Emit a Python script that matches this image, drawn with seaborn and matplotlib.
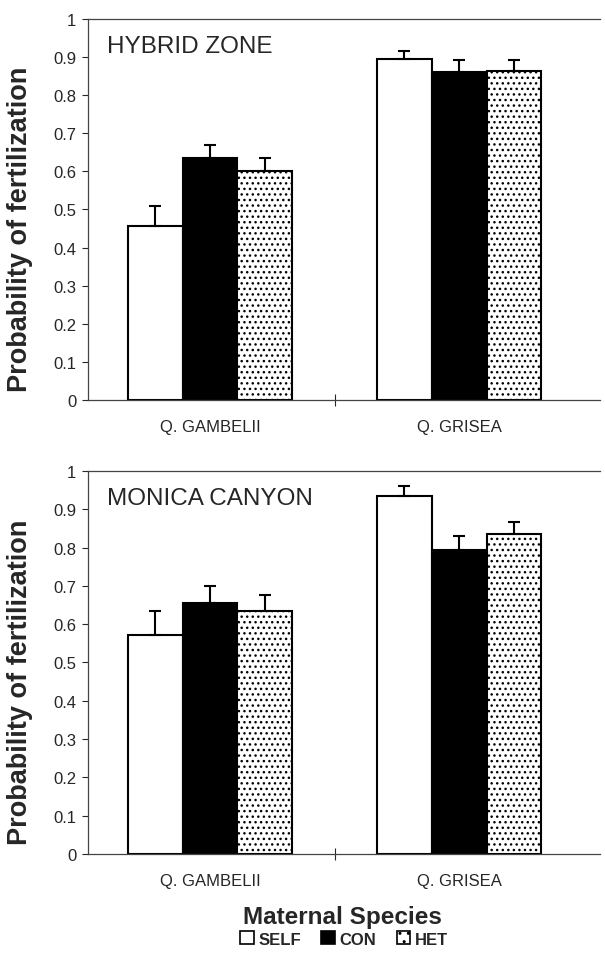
import pandas as pd
import matplotlib.pyplot as plt
import seaborn as sns
from matplotlib.patches import Patch
from matplotlib.ticker import FixedLocator

# Data (mean probability of fertilization + upper SE)
species = ["Q. GAMBELII", "Q. GRISEA"]
pollen = ["SELF", "CON", "HET"]

hybrid_self = [0.457, 0.895]
hybrid_con = [0.634, 0.862]
hybrid_het = [0.602, 0.864]
hybrid_self_se = [0.053, 0.020]
hybrid_con_se = [0.035, 0.030]
hybrid_het_se = [0.032, 0.028]

monica_self = [0.571, 0.935]
monica_con = [0.655, 0.794]
monica_het = [0.634, 0.835]
monica_self_se = [0.063, 0.026]
monica_con_se = [0.045, 0.037]
monica_het_se = [0.043, 0.031]

y_ticks = [0, 0.1, 0.2, 0.3, 0.4, 0.5, 0.6, 0.7, 0.8, 0.9, 1]
y_tick_labels = ["0", "0.1", "0.2", "0.3", "0.4", "0.5", "0.6", "0.7", "0.8", "0.9", "1"]


def make_df(self_v, con_v, het_v, self_se, con_se, het_se):
    rows = []
    for p, vals, ses in [("SELF", self_v, self_se), ("CON", con_v, con_se), ("HET", het_v, het_se)]:
        for s, v, e in zip(species, vals, ses):
            rows.append({"species": s, "pollen": p, "prob": v, "se": e})
    return pd.DataFrame(rows)


sns.set_style("ticks")
plt.rcParams['font.family'] = ['Liberation Sans', 'DejaVu Sans']
plt.rcParams['hatch.linewidth'] = 1.0

palette = {"SELF": "white", "CON": "black", "HET": "white"}

fig = plt.figure(figsize=(6.05, 9.54), dpi=100)
ax_top = fig.add_axes([0.1455, 0.5797, 0.846, 0.3994])
ax_bot = fig.add_axes([0.1455, 0.1038, 0.846, 0.4015])

panels = [
    (ax_top, make_df(hybrid_self, hybrid_con, hybrid_het, hybrid_self_se, hybrid_con_se, hybrid_het_se), "HYBRID ZONE"),
    (ax_bot, make_df(monica_self, monica_con, monica_het, monica_self_se, monica_con_se, monica_het_se), "MONICA CANYON"),
]

for ax, df, title in panels:
    sns.barplot(data=df, x="species", y="prob", hue="pollen", order=species,
                hue_order=pollen, palette=palette, edgecolor="black", linewidth=1.5,
                width=0.66, saturation=1, errorbar=None, legend=False, ax=ax)
    # hatch HET bars and add one-sided error bars
    bar_groups = list(ax.containers)
    for p, cont in zip(pollen, bar_groups):
        sub = df[df["pollen"] == p].set_index("species").loc[species]
        for bar, err in zip(cont, sub["se"]):
            if p == "HET":
                bar.set_hatch("...")
            x = bar.get_x() + bar.get_width() / 2
            ax.errorbar(x, bar.get_height(), yerr=[[0], [err]], color="black",
                        lw=1.5, capsize=4, capthick=1.5, zorder=1)

    ax.set_ylim(0, 1)
    ax.set_xlim(-0.49, 1.565)
    ax.set_yticks(y_ticks)
    ax.set_yticklabels(y_tick_labels)
    ax.tick_params(axis="y", labelsize=12, length=4.5, width=0.8, pad=4, direction="out")
    ax.tick_params(axis="x", which="major", labelsize=12, length=0, pad=14)
    ax.xaxis.set_minor_locator(FixedLocator([0.5]))
    ax.tick_params(axis="x", which="minor", length=8, width=0.8, direction="inout")
    ax.set_xlabel("")
    ax.set_ylabel("Probability of fertilization", fontsize=19.5, fontweight="bold")
    ax.yaxis.set_label_coords(-0.108, 0.45)
    for side in ["left", "bottom", "top"]:
        ax.spines[side].set_color("#444444")
        ax.spines[side].set_linewidth(0.9)
    ax.spines["right"].set_visible(False)
    ax.text(0.037, 0.93, title, transform=ax.transAxes, fontsize=17.5, va="center", ha="left")

fig.text(0.566, 0.038, "Maternal Species", fontsize=17.5, fontweight="bold", ha="center", va="center")

handles = [
    Patch(facecolor="white", edgecolor="black", linewidth=1.2, label="SELF"),
    Patch(facecolor="black", edgecolor="black", linewidth=1.2, label="CON"),
    Patch(facecolor="white", edgecolor="black", linewidth=1.2, hatch="..", label="HET"),
]
fig.legend(handles=handles, loc="center", bbox_to_anchor=(0.569, 0.0147), ncol=3,
           frameon=False, handlelength=0.8, handleheight=0.8, handletextpad=0.3,
           columnspacing=1.2, prop={"size": 12, "weight": "bold"})

fig.savefig("out.png", dpi=100)
